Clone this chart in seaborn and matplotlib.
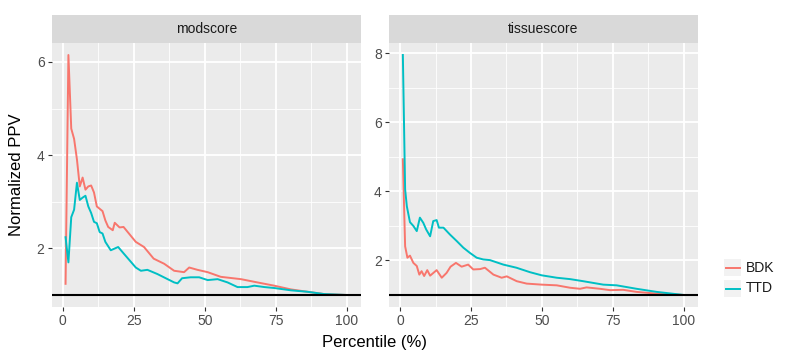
import numpy as np
import pandas as pd
import seaborn as sns
import matplotlib.pyplot as plt
from matplotlib.lines import Line2D
from matplotlib.patches import Rectangle

# 数据
mod_bdk_x = [1, 2, 3, 4, 5, 6, 7, 8, 9, 10, 11, 12, 13, 14, 15, 16, 17.6, 18.3, 20, 21.4,
             25.7, 28.6, 32, 35.7, 39.2, 42.7, 44.5, 47.4, 51, 55.6, 62.7, 68.5, 74.4, 80.3,
             86, 92, 100]
mod_bdk_y = [1.24, 6.15, 4.57, 4.35, 3.91, 3.33, 3.52, 3.26, 3.33, 3.35, 3.2, 2.9, 2.85, 2.8,
             2.6, 2.46, 2.39, 2.55, 2.45, 2.46, 2.14, 2.03, 1.78, 1.67, 1.52, 1.49, 1.59, 1.54,
             1.49, 1.39, 1.34, 1.27, 1.2, 1.12, 1.07, 1.02, 1.0]
mod_ttd_x = [1, 2, 3, 4, 5, 6, 7, 8, 9, 10, 11, 12, 13, 14, 15, 16.9, 19.5, 21.6, 25.7, 27.5,
             29.8, 33.3, 36.9, 39.2, 40.4, 42, 45, 48, 51, 54.5, 58, 61.5, 65, 67.4, 71, 74.4,
             80.3, 86, 92, 100]
mod_ttd_y = [2.24, 1.7, 2.67, 2.83, 3.41, 3.04, 3.09, 3.13, 2.9, 2.76, 2.57, 2.54, 2.35, 2.32,
             2.14, 1.96, 2.03, 1.88, 1.59, 1.52, 1.54, 1.45, 1.34, 1.27, 1.25, 1.36, 1.38, 1.38,
             1.32, 1.34, 1.27, 1.17, 1.17, 1.2, 1.17, 1.15, 1.1, 1.07, 1.02, 1.0]

tis_bdk_x = [1, 1.8, 2.6, 3.5, 4.7, 5.9, 6.8, 7.6, 8.5, 9.6, 10.6, 12.9, 14.7, 16.4, 17.8,
             19.7, 21.7, 24, 25.8, 28.2, 29.9, 32.9, 35.8, 37.6, 41.1, 44.6, 49.9, 55.2, 59.9,
             63.4, 65.7, 70.4, 74, 78.6, 83.3, 90.4, 100]
tis_bdk_y = [4.93, 2.41, 2.08, 2.14, 1.93, 1.84, 1.59, 1.69, 1.55, 1.72, 1.56, 1.72, 1.5, 1.64,
             1.82, 1.93, 1.82, 1.88, 1.74, 1.75, 1.79, 1.59, 1.5, 1.54, 1.4, 1.33, 1.3, 1.28,
             1.21, 1.18, 1.22, 1.18, 1.14, 1.15, 1.09, 1.04, 1.0]
tis_ttd_x = [1, 1.8, 2.4, 3.5, 4.7, 5.9, 7, 8.2, 9.2, 10.6, 11.7, 12.9, 13.7, 15.3, 17.6, 20,
             22.3, 24.6, 27, 29.3, 31.7, 36.4, 41, 45.8, 49.9, 55.2, 59.9, 64.5, 71.6, 76.3,
             83.3, 90.4, 100]
tis_ttd_y = [7.95, 4.06, 3.57, 3.11, 3.0, 2.85, 3.24, 3.09, 2.9, 2.7, 3.14, 3.17, 2.95, 2.95,
             2.75, 2.56, 2.37, 2.22, 2.08, 2.03, 2.01, 1.88, 1.79, 1.66, 1.57, 1.5, 1.46, 1.4,
             1.3, 1.28, 1.18, 1.09, 1.0]

panels = ['modscore', 'tissuescore']
groups = ['BDK', 'TTD']
colors = {'BDK': '#F8766D', 'TTD': '#00BFC4'}

frames = []
for panel, g, xs, ys in [('modscore', 'BDK', mod_bdk_x, mod_bdk_y),
                         ('modscore', 'TTD', mod_ttd_x, mod_ttd_y),
                         ('tissuescore', 'BDK', tis_bdk_x, tis_bdk_y),
                         ('tissuescore', 'TTD', tis_ttd_x, tis_ttd_y)]:
    frames.append(pd.DataFrame({'panel': panel, 'group': g, 'pct': xs, 'ppv': ys}))
df = pd.concat(frames, ignore_index=True)

plt.rcParams['font.family'] = ['Liberation Sans', 'DejaVu Sans']

W, H = 790, 352
fig = plt.figure(figsize=(W / 100, H / 100), dpi=100)

def fx(px):
    return px / W

def fy(py):
    return 1 - py / H

panel_top, panel_bot = 43, 307
strip_top = 15
lefts = [(51.5, 361), (388.8, 698)]
yticks = {'modscore': [2, 4, 6], 'tissuescore': [2, 4, 6, 8]}

for (x0, x1), panel in zip(lefts, panels):
    ax = fig.add_axes([fx(x0), fy(panel_bot), fx(x1 - x0), (panel_bot - panel_top) / H])
    sub = df[df['panel'] == panel]
    ax.set_facecolor('#EBEBEB')
    ax.set_axisbelow(True)
    sns.lineplot(data=sub, x='pct', y='ppv', hue='group', hue_order=groups,
                 palette=colors, ax=ax, linewidth=1.4, legend=False, estimator=None,
                 sort=False)
    ax.axhline(1, color='black', linewidth=1.5, zorder=3)

    ax.set_xticks([0, 25, 50, 75, 100])
    ax.set_yticks(yticks[panel])
    ax.set_xticks([12.5, 37.5, 62.5, 87.5], minor=True)
    ax.set_yticks([t - 1 for t in yticks[panel]] + [yticks[panel][-1] + 1], minor=True)

    # ggplot 风格的 5% 扩展
    ymin = min(sub['ppv'].min(), 1.0)
    ymax = sub['ppv'].max()
    rng = ymax - ymin
    ax.set_ylim(ymin - 0.05 * rng, ymax + 0.05 * rng)
    ax.set_xlim(1 - 0.05 * 99, 100 + 0.05 * 99)

    ax.grid(which='major', color='white', linewidth=1.3)
    ax.grid(which='minor', color='white', linewidth=0.6)
    for s in ax.spines.values():
        s.set_visible(False)
    ax.tick_params(which='major', length=3, width=0.8, color='#333333',
                   labelcolor='#4D4D4D', labelsize=10, pad=2)
    ax.tick_params(which='minor', length=0)
    ax.set_xlabel('')
    ax.set_ylabel('')

    sax = fig.add_axes([fx(x0), fy(panel_top), fx(x1 - x0), (panel_top - strip_top) / H])
    sax.set_facecolor('#D9D9D9')
    sax.set_xticks([])
    sax.set_yticks([])
    for s in sax.spines.values():
        s.set_visible(False)
    sax.text(0.5, 0.5, panel, ha='center', va='center', fontsize=10, color='#1A1A1A',
             transform=sax.transAxes)

fig.text(fx(375), fy(342), 'Percentile (%)', ha='center', va='center', fontsize=12)
fig.text(fx(17), fy(175), 'Normalized PPV', ha='center', va='center', fontsize=12,
         rotation=90)

# 图例
key_w, key_h = 17, 17
for i, g in enumerate(groups):
    ky = 259 + i * 21
    fig.add_artist(Rectangle((fx(724), fy(ky + key_h)), key_w / W, key_h / H,
                             facecolor='#F2F2F2', edgecolor='none'))
    fig.add_artist(Line2D([fx(725.5), fx(739.5)], [fy(ky + key_h / 2)] * 2,
                          color=colors[g], linewidth=1.4))
    fig.text(fx(746), fy(ky + key_h / 2), g, ha='left', va='center', fontsize=10,
             color='#1A1A1A')

plt.savefig('out.png', dpi=100)
